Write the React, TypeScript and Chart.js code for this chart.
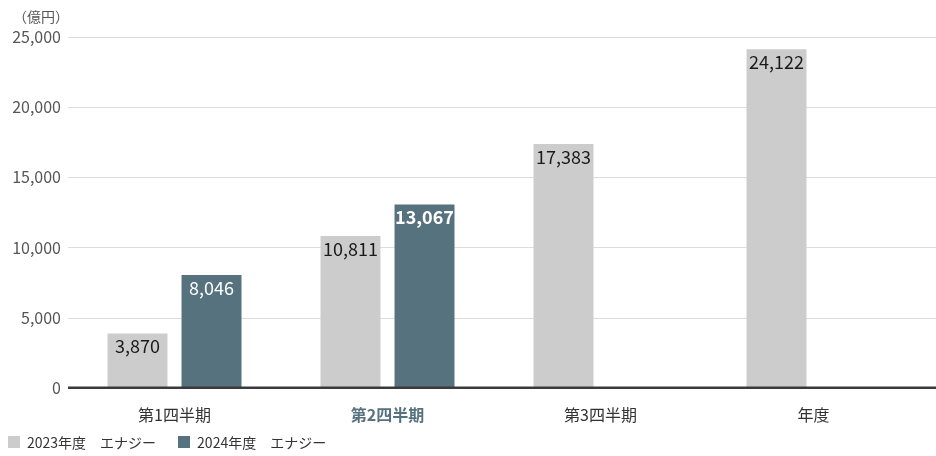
import { useEffect, useRef } from 'react';
import { Chart, registerables, Plugin } from 'chart.js';

Chart.register(...registerables);

// chart data
const categories = ['第1四半期', '第2四半期', '第3四半期', '年度'];
const seriesNames = ['2023年度　エナジー', '2024年度　エナジー'];
const values2023 = [3870, 10811, 17383, 24122];
const values2024: (number | null)[] = [8046, 13067, null, null];
const yTicks = [0, 5000, 10000, 15000, 20000, 25000];
const unitLabel = '（億円）';
const highlightIndex = 1;

const colors = ['#cccccc', '#56727e'];
const FONT = '"Noto Sans CJK JP", "Noto Sans", sans-serif';

const fmt = (v: number) => v.toLocaleString('en-US');

// horizontal grid lines reaching to the right edge, plus the dark zero line
const gridPlugin: Plugin<'bar'> = {
  id: 'fullGrid',
  beforeDatasetsDraw(chart) {
    const { ctx, chartArea } = chart;
    const y = chart.scales.y;
    ctx.save();
    ctx.strokeStyle = '#dddddd';
    ctx.lineWidth = 1;
    yTicks.forEach((t) => {
      if (t === 0) return;
      const py = Math.round(y.getPixelForValue(t)) + 0.5;
      ctx.beginPath();
      ctx.moveTo(chartArea.left, py);
      ctx.lineTo(chart.width, py);
      ctx.stroke();
    });
    // unit label
    ctx.fillStyle = '#555555';
    ctx.font = `14px ${FONT}`;
    ctx.textAlign = 'left';
    ctx.textBaseline = 'middle';
    ctx.fillText(unitLabel, 13, 17);
    ctx.restore();
  },
  afterDatasetsDraw(chart) {
    const { ctx, chartArea } = chart;
    const y = chart.scales.y;
    ctx.save();
    ctx.strokeStyle = '#3a3a3a';
    ctx.lineWidth = 2.5;
    const py = y.getPixelForValue(0);
    ctx.beginPath();
    ctx.moveTo(chartArea.left, py);
    ctx.lineTo(chart.width, py);
    ctx.stroke();
    ctx.restore();
  },
};

// value labels inside the top of each bar
const valueLabelPlugin: Plugin<'bar'> = {
  id: 'valueLabels',
  afterDatasetsDraw(chart) {
    const { ctx } = chart;
    ctx.save();
    ctx.textAlign = 'center';
    ctx.textBaseline = 'middle';
    chart.data.datasets.forEach((ds, di) => {
      const meta = chart.getDatasetMeta(di);
      meta.data.forEach((bar, i) => {
        const v = ds.data[i] as number | null;
        if (v == null) return;
        const bold = di === 1 && i === highlightIndex;
        ctx.font = `${bold ? 'bold ' : ''}18px ${FONT}`;
        ctx.fillStyle = di === 0 ? '#1a1a1a' : '#ffffff';
        const { x, y } = bar.getProps(['x', 'y'], true) as { x: number; y: number };
        ctx.fillText(fmt(v), x, y + 13);
      });
    });
    ctx.restore();
  },
};

const ChartCanvas: React.FC = () => {
  const canvasRef = useRef<HTMLCanvasElement>(null);
  const chartRef = useRef<Chart<'bar'> | null>(null);

  useEffect(() => {
    const ctx = canvasRef.current?.getContext('2d');
    if (!ctx) return;

    chartRef.current = new Chart(ctx, {
      type: 'bar',
      data: {
        labels: categories,
        datasets: [
          {
            label: seriesNames[0],
            data: values2023,
            backgroundColor: colors[0],
            categoryPercentage: 0.695,
            barPercentage: 0.81,
          },
          {
            label: seriesNames[1],
            data: values2024,
            backgroundColor: colors[1],
            categoryPercentage: 0.695,
            barPercentage: 0.81,
          },
        ],
      },
      options: {
        responsive: false,
        animation: false,
        devicePixelRatio: 1,
        layout: { padding: { top: 37, right: 16, bottom: 13, left: 0 } },
        plugins: {
          legend: { display: false },
          tooltip: { enabled: false },
        },
        scales: {
          x: {
            grid: { display: false, drawTicks: false },
            border: { display: false },
            ticks: {
              padding: 18,
              font: (c) => ({
                family: FONT,
                size: 16,
                weight: c.index === highlightIndex ? 'bold' : 'normal',
              }),
              color: (c) => (c.index === highlightIndex ? colors[1] : '#333333'),
            },
          },
          y: {
            min: 0,
            max: 25000,
            afterFit: (s) => {
              s.width = 68;
            },
            afterBuildTicks: (s) => {
              s.ticks = yTicks.map((v) => ({ value: v }));
            },
            grid: { display: false, drawTicks: false },
            border: { display: false },
            ticks: {
              padding: 7,
              color: '#555555',
              font: { family: FONT, size: 16 },
              callback: (v) => fmt(Number(v)),
            },
          },
        },
      },
      plugins: [gridPlugin, valueLabelPlugin],
    });

    return () => {
      chartRef.current?.destroy();
      chartRef.current = null;
    };
  }, []);

  return <canvas ref={canvasRef} width={936} height={456} />;
};

const Legend: React.FC = () => (
  <div
    style={{
      position: 'absolute',
      left: 8,
      top: 432,
      display: 'flex',
      alignItems: 'center',
      fontFamily: FONT,
      fontSize: 14,
      color: '#333333',
      lineHeight: '20px',
    }}
  >
    {seriesNames.map((name, i) => (
      <div key={name} style={{ display: 'flex', alignItems: 'center', marginRight: 22 }}>
        <span
          style={{
            display: 'inline-block',
            width: 12,
            height: 12,
            background: colors[i],
            marginRight: 7,
          }}
        />
        <span>{name}</span>
      </div>
    ))}
  </div>
);

export default function App() {
  return (
    <div
      style={{
        position: 'absolute',
        left: 0,
        top: 0,
        width: 936,
        height: 456,
        background: '#ffffff',
      }}
    >
      <ChartCanvas />
      <Legend />
    </div>
  );
}
